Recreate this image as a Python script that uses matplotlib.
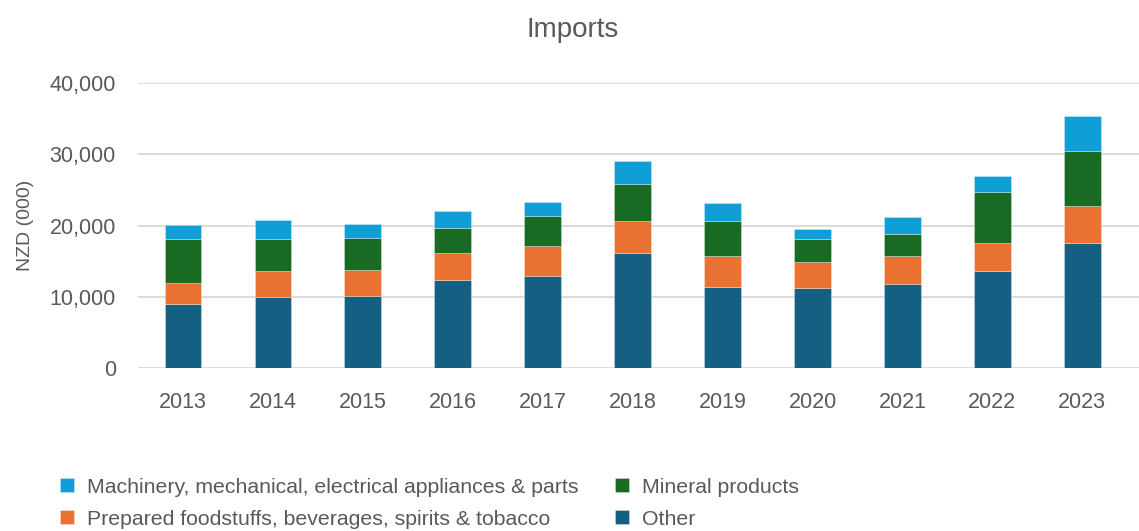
import matplotlib.pyplot as plt
from matplotlib.ticker import FuncFormatter

# data (NZD 000)
years = ['2013', '2014', '2015', '2016', '2017', '2018', '2019', '2020', '2021', '2022', '2023']
other = [8980, 10040, 10180, 12380, 12900, 16130, 11440, 11260, 11870, 13600, 17570]
food = [3030, 3560, 3600, 3750, 4290, 4490, 4350, 3600, 3925, 3970, 5190]
mineral = [6130, 4530, 4530, 3590, 4165, 5230, 4825, 3270, 3000, 7195, 7755]
machinery = [1960, 2670, 1960, 2340, 1960, 3230, 2525, 1400, 2385, 2160, 4870]

labels = ['Other', 'Prepared foodstuffs, beverages, spirits & tobacco',
          'Mineral products', 'Machinery, mechanical, electrical appliances & parts']
colors = ['#156082', '#E97132', '#196B24', '#0F9ED5']

plt.rcParams['font.family'] = ['Liberation Sans', 'DejaVu Sans']
grey = '#595959'

fig = plt.figure(figsize=(11.39, 5.31), dpi=100)
ax = fig.add_axes([0.1212, 0.3064, 0.8788, 0.5373])

x = range(len(years))
bottom = [0] * len(years)
bars = []
for vals, lab, col in zip([other, food, mineral, machinery], labels, colors):
    b = ax.bar(x, vals, width=0.41, bottom=bottom, color=col, label=lab,
               edgecolor=(1, 1, 1, 0.35), linewidth=0.6, zorder=3)
    bars.append(b)
    bottom = [a + v for a, v in zip(bottom, vals)]

ax.set_xlim(-0.5, 10.63)
ax.set_ylim(0, 40000)
ax.set_yticks([0, 10000, 20000, 30000, 40000])
ax.yaxis.set_major_formatter(FuncFormatter(lambda v, p: f'{int(v):,}'))
ax.set_xticks(list(x))
ax.set_xticklabels(years)
ax.grid(axis='y', color='#D9D9D9', linewidth=1.3, zorder=0)
for s in ax.spines.values():
    s.set_visible(False)
ax.tick_params(length=0, labelsize=15.5, colors=grey)
ax.tick_params(axis='y', pad=16)
ax.tick_params(axis='x', pad=17)
ax.set_ylabel('NZD (000)', fontsize=14, color=grey, labelpad=11)

fig.text(0.5025, 0.943, 'Imports', ha='center', va='center', fontsize=20, color=grey)

# legend: two rows, two columns
order = [3, 1, 2, 0]
fig.legend([bars[i] for i in order], [labels[i] for i in order], ncol=2,
           loc='lower left', bbox_to_anchor=(0.036, -0.032), frameon=False,
           fontsize=15.3, labelcolor=grey, handlelength=0.65, handleheight=0.65,
           handletextpad=0.6, columnspacing=1.75, labelspacing=0.62)

plt.savefig('out.png', dpi=100)
